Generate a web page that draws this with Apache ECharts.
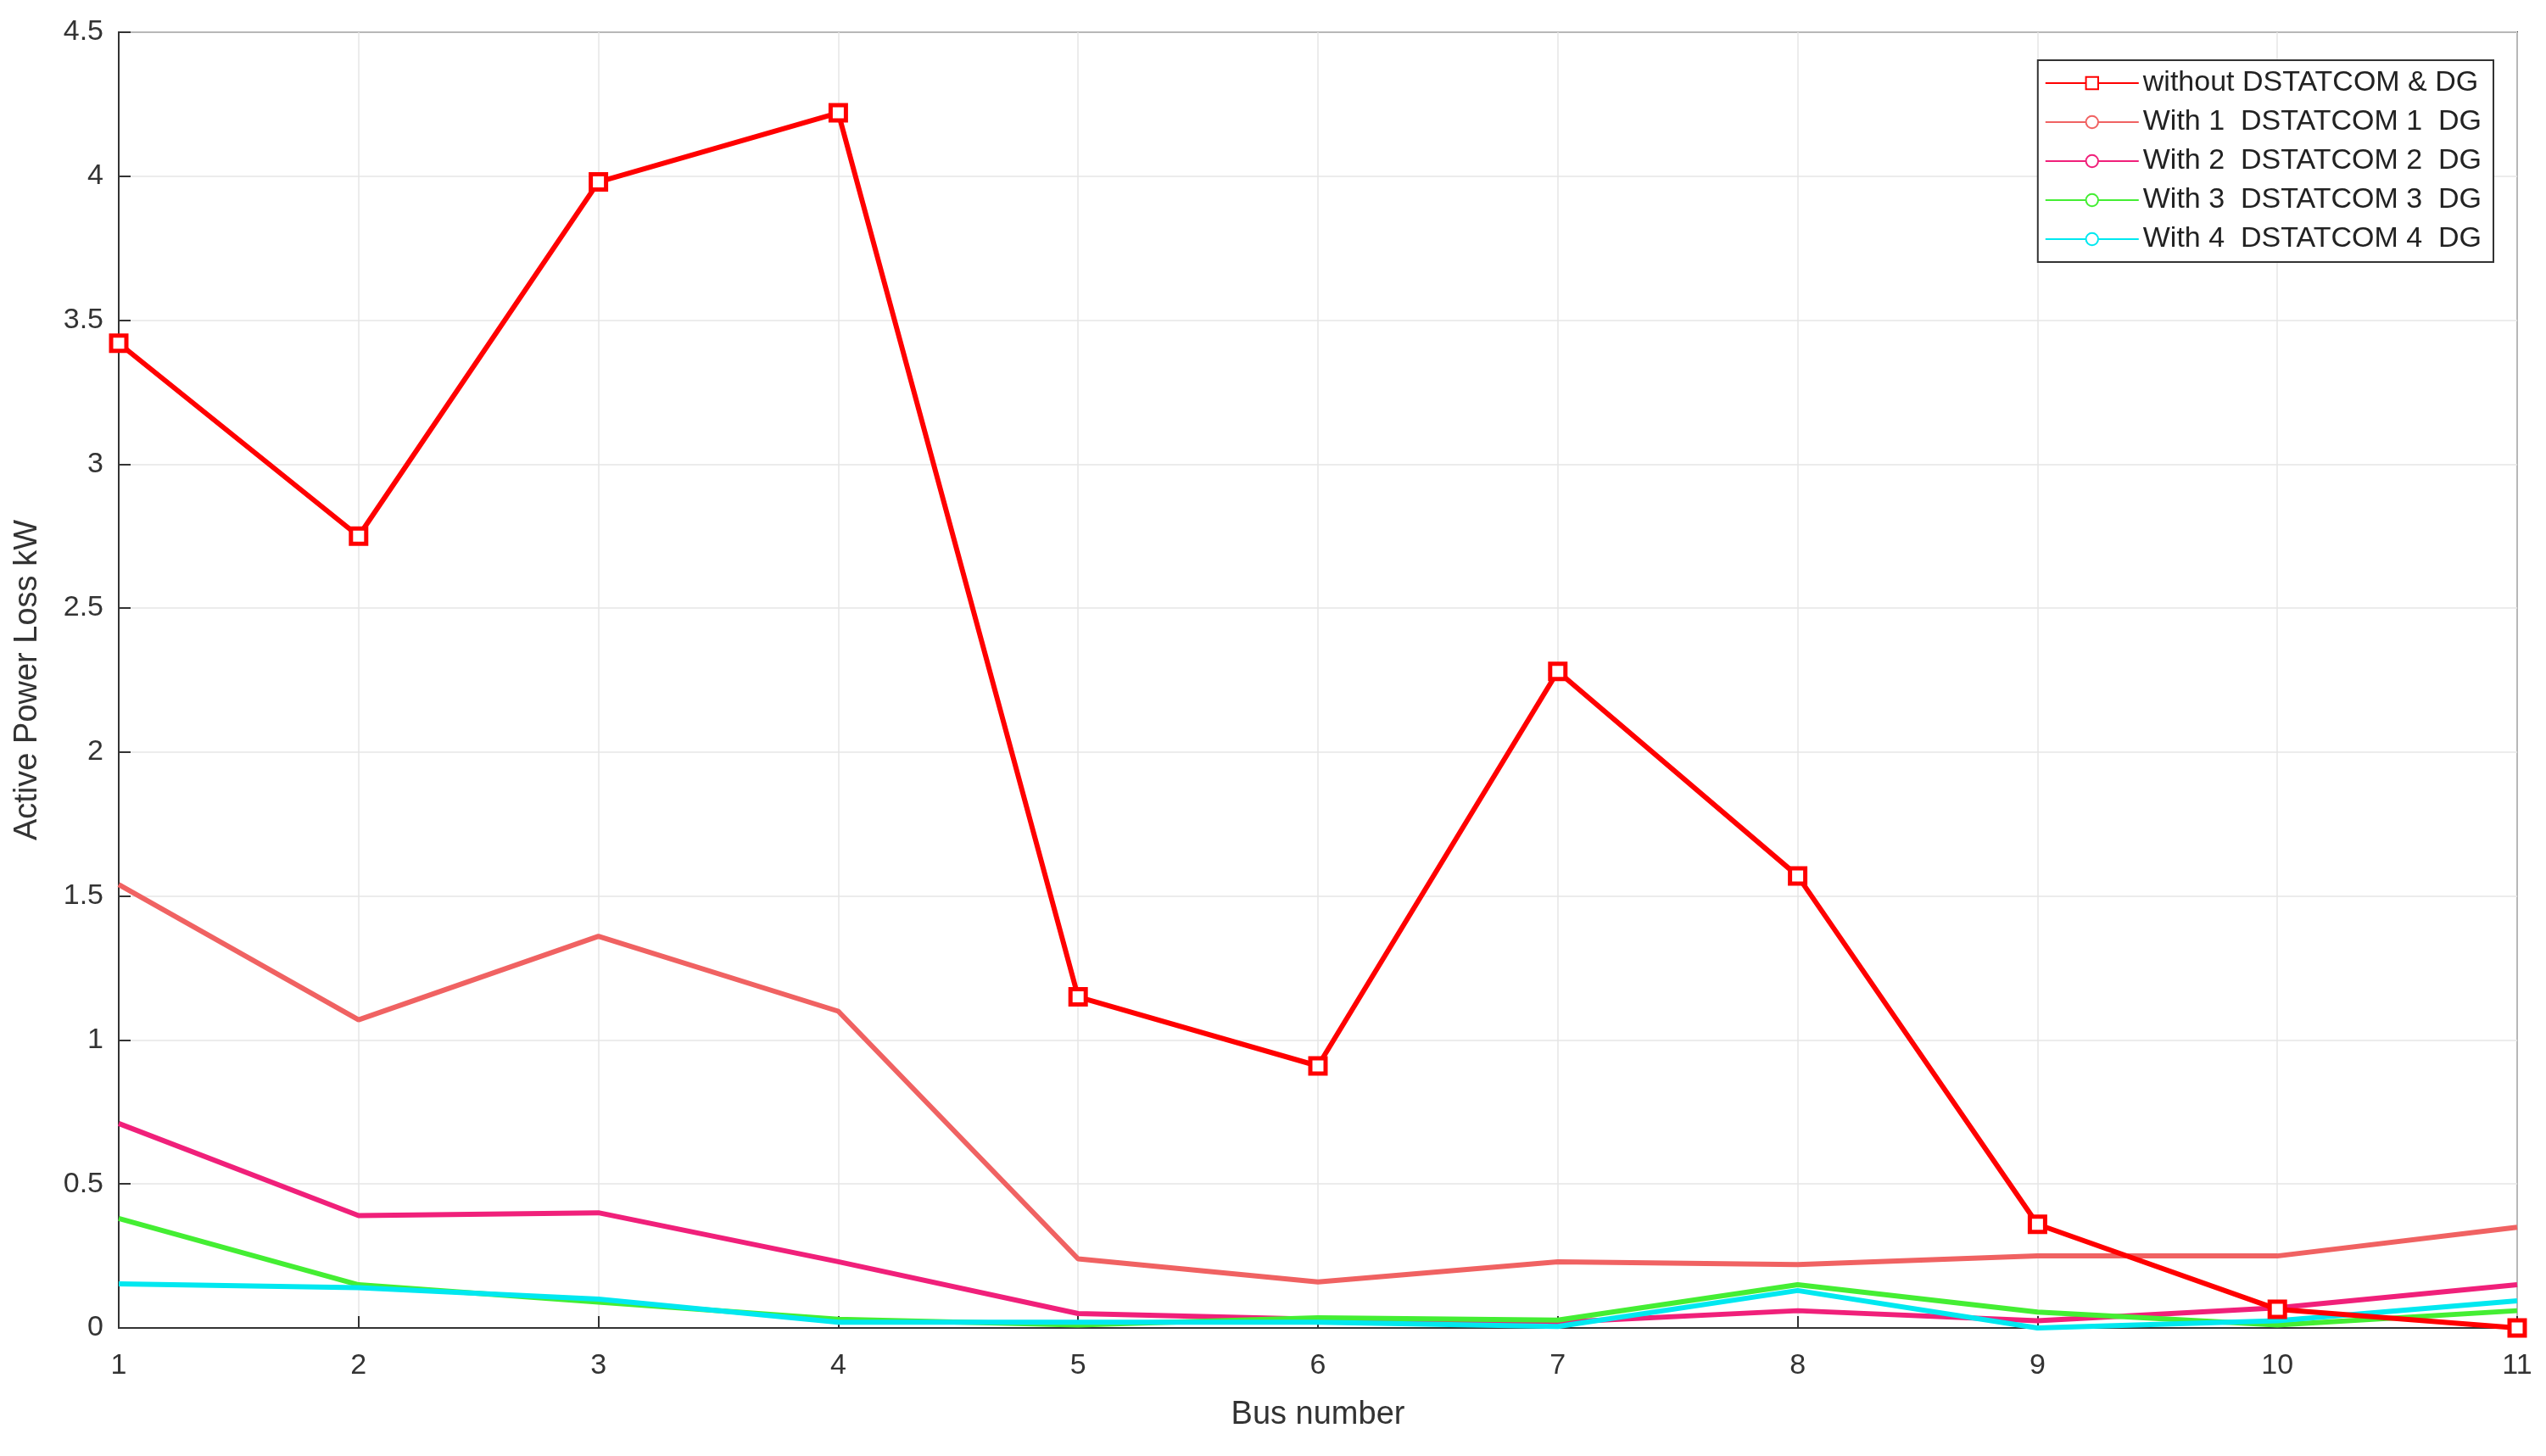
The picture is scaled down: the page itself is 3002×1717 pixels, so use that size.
<!DOCTYPE html>
<html><head><meta charset="utf-8">
<script src="https://cdn.jsdelivr.net/npm/echarts@6/dist/echarts.min.js"></script>
<style>html,body{margin:0;padding:0;background:#fff}#c{width:3002px;height:1717px}</style>
</head><body><div id="c"></div>
<script>
const buses = [1,2,3,4,5,6,7,8,9,10,11];
const seriesNames = ['without DSTATCOM & DG','With 1  DSTATCOM 1  DG','With 2  DSTATCOM 2  DG','With 3  DSTATCOM 3  DG','With 4  DSTATCOM 4  DG'];
const noComp = [3.42,2.75,3.98,4.22,1.15,0.91,2.28,1.57,0.36,0.065,0.0];
const with1 = [1.54,1.07,1.36,1.10,0.24,0.16,0.23,0.22,0.25,0.25,0.35];
const with2 = [0.71,0.39,0.40,0.23,0.05,0.03,0.02,0.06,0.025,0.07,0.15];
const with3 = [0.38,0.15,0.09,0.03,0.01,0.035,0.027,0.15,0.055,0.01,0.06];
const with4 = [0.153,0.14,0.10,0.02,0.02,0.02,0.005,0.13,0.0,0.025,0.094];
const colors = ['#ff0000','#f06262','#f0207a','#44ee33','#00e8f0'];
const vals = [noComp,with1,with2,with3,with4];
const font = 'Liberation Sans';
const chart = echarts.init(document.getElementById('c'));
const gridLine = {show:true,lineStyle:{color:'#e6e6e6',width:1.5}};
const series = vals.map((v,i)=>({
  name: seriesNames[i], type:'line',
  data: v.map((y,j)=>[buses[j],y]),
  symbol: i===0?'rect':'none', symbolSize: 18,
  itemStyle:{color:'#ffffff', borderColor:colors[i], borderWidth:5},
  lineStyle:{color:colors[i], width:6},
  z: i===0?10:5
}));
chart.setOption({
  animation:false,
  backgroundColor:'#fff',
  grid:{left:140,right:34,top:38,bottom:151,show:true,borderColor:'#333',borderWidth:2},
  legend:{
    right:62, top:71, orient:'vertical', itemWidth:110, itemHeight:18, itemGap:12,
    backgroundColor:'#fff', borderColor:'#333', borderWidth:2, padding:[10,14,10,8],
    textStyle:{fontFamily:font,fontSize:34,color:'#222'},
    data: seriesNames
  },
  xAxis:{type:'value',min:1,max:11,interval:1,
    name:'Bus number',nameLocation:'middle',nameGap:84,
    nameTextStyle:{fontFamily:font,fontSize:38,color:'#333'},
    axisLine:{lineStyle:{color:'#333',width:2}},
    axisTick:{inside:true,length:14,lineStyle:{color:'#333',width:2}},
    axisLabel:{fontFamily:font,fontSize:34,color:'#333',margin:28},
    splitLine:gridLine},
  yAxis:{type:'value',min:0,max:4.5,interval:0.5,
    name:'Active Power Loss kW',nameLocation:'middle',nameGap:88,
    nameTextStyle:{fontFamily:font,fontSize:38,color:'#333'},
    axisLine:{show:true,lineStyle:{color:'#333',width:2}},
    axisTick:{show:true,inside:true,length:14,lineStyle:{color:'#333',width:2}},
    axisLabel:{fontFamily:font,fontSize:34,color:'#333',margin:18},
    splitLine:gridLine},
  series
});
</script></body></html>
